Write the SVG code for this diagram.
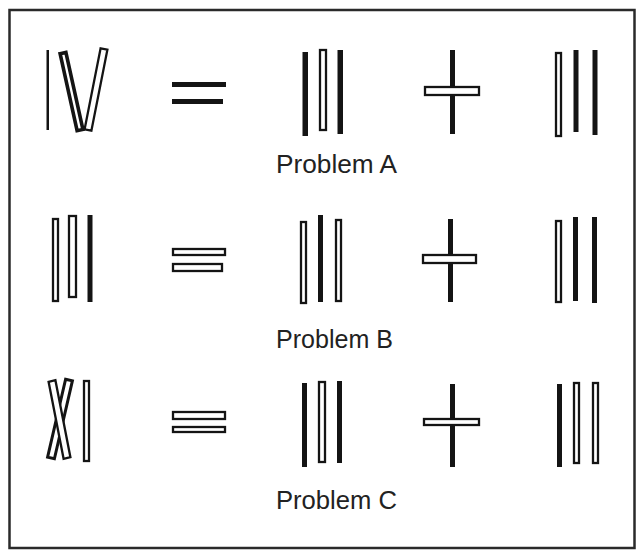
<svg xmlns="http://www.w3.org/2000/svg" width="637" height="551" viewBox="0 0 637 551">
<style>
.b{fill:#141414}
.h{fill:#fff;stroke:#141414;stroke-width:2.3}
.t{fill:#222;font-family:"Liberation Sans",Arial,sans-serif;font-size:25px}
</style>
<rect x="0" y="0" width="637" height="551" fill="#fff"/>
<rect x="9.5" y="10" width="625" height="538" fill="none" stroke="#2a2a2a" stroke-width="2.5"/>

<g id="problemA">
  <g id="A-left">
    <rect class="b" x="46.5" y="50" width="2.5" height="80"/>
    <polygon class="h" style="stroke-width:3.6" points="60.1,53.7 65.9,52.4 82.9,129.4 77.1,130.7"/>
    <polygon class="h" points="100.6,48.3 107.4,49.7 91.4,130.7 84.6,129.3"/>
  </g>
  <g id="A-equals">
    <rect class="b" x="172" y="82" width="54" height="5"/>
    <rect class="b" x="172" y="99" width="51" height="5"/>
  </g>
  <g id="A-mid">
    <rect class="b" x="302.5" y="52" width="5.5" height="84"/>
    <rect class="h" x="320" y="50" width="6" height="80"/>
    <rect class="b" x="337.5" y="50" width="5.5" height="84"/>
  </g>
  <g id="A-plus">
    <rect class="b" x="450" y="50" width="5" height="84"/>
    <rect class="h" x="425" y="87" width="54" height="8"/>
  </g>
  <g id="A-right">
    <rect class="h" x="556" y="53" width="5" height="83"/>
    <rect class="b" x="573.5" y="50" width="5" height="82"/>
    <rect class="b" x="592.5" y="50" width="5" height="85"/>
  </g>
  <text class="t" x="276" y="173" textLength="121" lengthAdjust="spacingAndGlyphs">Problem A</text>
</g>

<g id="problemB">
  <g id="B-left">
    <rect class="h" x="53" y="219" width="5" height="82"/>
    <rect class="h" x="69" y="216" width="7" height="81"/>
    <rect class="b" x="87.5" y="215" width="5" height="87"/>
  </g>
  <g id="B-equals">
    <rect class="h" x="173" y="249" width="52" height="6"/>
    <rect class="h" x="173" y="264" width="49" height="7"/>
  </g>
  <g id="B-mid">
    <rect class="h" x="301" y="222" width="5" height="81"/>
    <rect class="b" x="318" y="215" width="5" height="87"/>
    <rect class="h" x="336" y="220" width="5" height="81"/>
  </g>
  <g id="B-plus">
    <rect class="b" x="448" y="219" width="5" height="83"/>
    <rect class="h" x="423" y="255" width="53" height="8"/>
  </g>
  <g id="B-right">
    <rect class="h" x="556" y="221" width="5" height="81"/>
    <rect class="b" x="573" y="217" width="5" height="84"/>
    <rect class="b" x="592" y="217" width="5" height="86"/>
  </g>
  <text class="t" x="276" y="348" textLength="117" lengthAdjust="spacingAndGlyphs">Problem B</text>
</g>

<g id="problemC">
  <g id="C-left">
    <polygon class="h" points="65.6,379.2 72.4,380.8 54.4,458.8 47.6,457.2" style="stroke-width:3"/>
    <polygon class="h" points="48.6,381.8 55.4,380.2 70.4,457.2 63.6,458.8"/>
    <rect class="h" x="84" y="381" width="5" height="80"/>
  </g>
  <g id="C-equals">
    <rect class="h" x="173" y="412" width="52" height="7"/>
    <rect class="h" x="173" y="427" width="52" height="5"/>
  </g>
  <g id="C-mid">
    <rect class="b" x="302" y="383" width="5" height="84"/>
    <rect class="h" x="319" y="382" width="6" height="80"/>
    <rect class="b" x="337" y="381" width="5" height="82"/>
  </g>
  <g id="C-plus">
    <rect class="b" x="450" y="384" width="5" height="83"/>
    <rect class="h" x="424" y="419" width="55" height="6"/>
  </g>
  <g id="C-right">
    <rect class="b" x="557" y="384" width="5" height="83"/>
    <rect class="h" x="574" y="383" width="5" height="80"/>
    <rect class="h" x="593" y="383" width="5" height="80"/>
  </g>
  <text class="t" x="276" y="509" textLength="121" lengthAdjust="spacingAndGlyphs">Problem C</text>
</g>
</svg>
